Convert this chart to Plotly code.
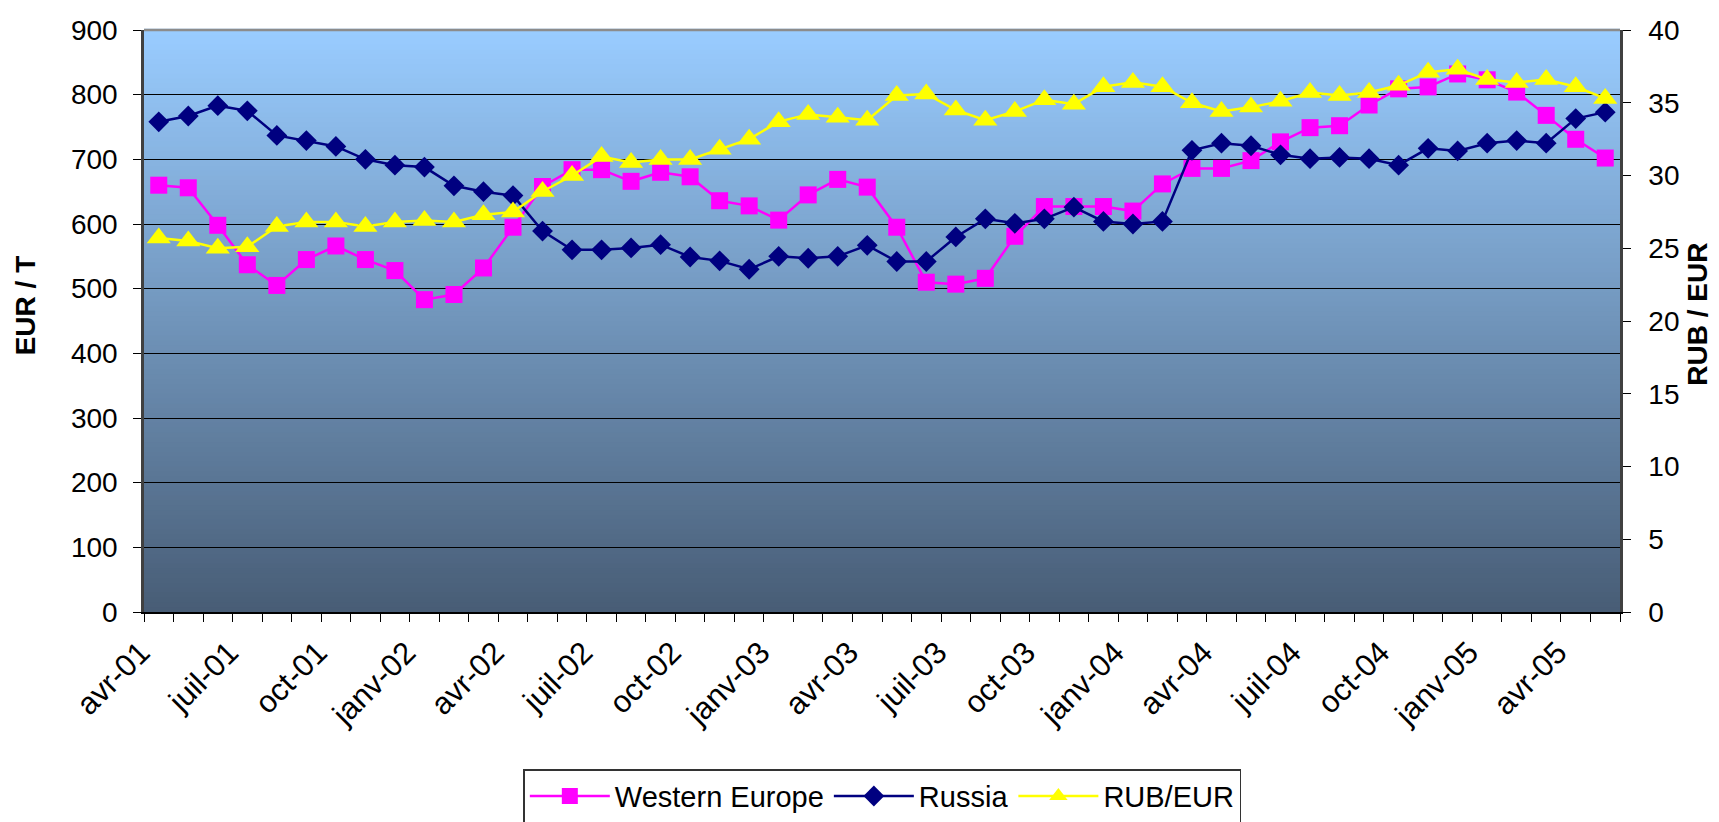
import plotly.graph_objects as go

# months (French Excel labels), avr-01 .. mai-05
months = ["avr-01", "mai-01", "juin-01", "juil-01", "août-01", "sept-01", "oct-01", "nov-01", "déc-01",
          "janv-02", "févr-02", "mars-02", "avr-02", "mai-02", "juin-02", "juil-02", "août-02", "sept-02",
          "oct-02", "nov-02", "déc-02", "janv-03", "févr-03", "mars-03", "avr-03", "mai-03", "juin-03",
          "juil-03", "août-03", "sept-03", "oct-03", "nov-03", "déc-03", "janv-04", "févr-04", "mars-04",
          "avr-04", "mai-04", "juin-04", "juil-04", "août-04", "sept-04", "oct-04", "nov-04", "déc-04",
          "janv-05", "févr-05", "mars-05", "avr-05", "mai-05"]

western_europe = [660, 656, 598, 537, 505, 545, 566, 545, 528, 483,
                  491, 532, 595, 658, 684, 684, 666, 680, 673, 636,
                  628, 606, 645, 669, 657, 595, 510, 507, 516, 581,
                  627, 627, 627, 620, 662, 686, 686, 698, 727, 749,
                  752, 784, 809, 812, 832, 823, 804, 768, 731, 702]

russia = [758, 767, 783, 775, 737, 729, 720, 700, 691, 688,
          659, 650, 644, 589, 560, 560, 563, 568, 549, 543,
          530, 550, 547, 550, 567, 542, 542, 580, 608, 601,
          608, 626, 604, 600, 604, 714, 725, 721, 707, 701,
          703, 701, 691, 717, 713, 725, 729, 725, 763, 773]

rub_eur = [25.7, 25.5, 25.0, 25.1, 26.5, 26.8, 26.8, 26.5, 26.8, 26.9,
           26.8, 27.3, 27.5, 28.9, 30.0, 31.3, 30.9, 31.1, 31.1, 31.8,
           32.5, 33.7, 34.2, 34.0, 33.8, 35.5, 35.6, 34.5, 33.8, 34.4,
           35.2, 34.9, 36.1, 36.4, 36.1, 35.0, 34.4, 34.7, 35.1, 35.7,
           35.5, 35.7, 36.2, 37.1, 37.3, 36.6, 36.4, 36.6, 36.1, 35.3]

# every third month gets a label
tick_text = [m if i % 3 == 0 else "" for i, m in enumerate(months)]

FONT = "Liberation Sans, Arial, sans-serif"

fig = go.Figure()
fig.add_trace(go.Scatter(x=months, y=western_europe, name="Western Europe", mode="lines+markers",
                         line=dict(color="#FF00FF", width=2.5),
                         marker=dict(symbol="square", size=17, color="#FF00FF")))
fig.add_trace(go.Scatter(x=months, y=russia, name="Russia", mode="lines+markers",
                         line=dict(color="#000080", width=2.5),
                         marker=dict(symbol="diamond", size=16, color="#000080")))
fig.add_trace(go.Scatter(x=months, y=rub_eur, name="RUB/EUR", mode="lines+markers", yaxis="y2",
                         line=dict(color="#FFFF00", width=2.5),
                         marker=dict(symbol="triangle-up", size=21, color="#FFFF00")))

# gradient background of the plot area: light blue at top, slate at bottom
top_c = (153, 204, 255)
bot_c = (72, 93, 118)
n = 120
shapes = []
for i in range(n):
    f = i / (n - 1)
    c = tuple(round(bot_c[k] + (top_c[k] - bot_c[k]) * f) for k in range(3))
    shapes.append(dict(type="rect", xref="paper", yref="paper", x0=0, x1=1,
                       y0=i / n, y1=(i + 1) / n + 0.002, layer="below",
                       line=dict(width=0), fillcolor="rgb(%d,%d,%d)" % c))
# grey top border
shapes.append(dict(type="line", xref="paper", yref="paper", x0=0, x1=1, y0=1, y1=1,
                   line=dict(color="#8c8c8c", width=2.5)))

# the page body has an 8px margin, so margins are shifted by 8px to compensate
fig.update_layout(
    width=1719, height=822,
    margin=dict(l=136, r=107, t=22, b=218, autoexpand=False),
    paper_bgcolor="white", plot_bgcolor="#7fa3c8",
    font=dict(family=FONT, size=28, color="black"),
    shapes=shapes,
    showlegend=True,
    legend=dict(orientation="h", x=0.257, y=-0.27, xanchor="left", yanchor="top",
                bordercolor="#333333", borderwidth=1.5, bgcolor="white",
                font=dict(size=29, family=FONT), itemwidth=80, tracegroupgap=0),
    xaxis=dict(type="category", range=[-0.5, 49.5], tickmode="array", tickvals=months,
               ticktext=tick_text, tickson="boundaries", ticks="outside", ticklen=8,
               tickcolor="black", tickangle=-45, showgrid=False, showline=True,
               linecolor="black", linewidth=2, ticklabelshift=-18, ticklabelstandoff=8,
               tickfont=dict(size=31), automargin=False),
    yaxis=dict(range=[0, 900], dtick=100, tickmode="linear", tick0=0, showgrid=True,
               gridcolor="black", gridwidth=1, ticks="outside", ticklen=8, tickcolor="black",
               showline=True, linecolor="#404040", linewidth=2.5, zeroline=False,
               ticklabelstandoff=10, tickfont=dict(size=28), automargin=False),
    yaxis2=dict(range=[0, 40], dtick=5, tickmode="linear", tick0=0, overlaying="y", side="right",
                showgrid=False, ticks="outside", ticklen=8, tickcolor="black", showline=True,
                linecolor="#404040", linewidth=2.5, zeroline=False, ticklabelstandoff=12,
                tickfont=dict(size=28), automargin=False),
    annotations=[
        dict(text="<b>EUR / T</b>", xref="paper", yref="paper", x=-0.0806, y=0.527,
             xanchor="center", yanchor="middle", textangle=-90, showarrow=False,
             font=dict(size=28, family=FONT)),
        dict(text="<b>RUB / EUR</b>", xref="paper", yref="paper", x=1.052, y=0.512,
             xanchor="center", yanchor="middle", textangle=-90, showarrow=False,
             font=dict(size=28, family=FONT)),
    ],
)

fig.write_html("out.html")
